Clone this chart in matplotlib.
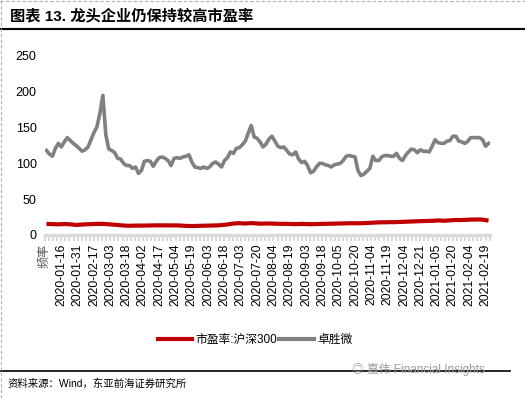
import numpy as np
import pandas as pd
from matplotlib import pyplot as plt
from matplotlib.lines import Line2D
from matplotlib.ticker import FixedLocator, MultipleLocator

plt.rcParams['font.family'] = ['Liberation Sans', 'Noto Sans CJK SC', 'DejaVu Sans']

# weekday calendar (Wind export), values read every other day
dates = pd.bdate_range('2020-01-02', '2021-02-23')

zsw_pe = [118, 113, 110, 121, 128, 123, 130, 136, 132, 128, 125, 121, 117, 119, 123,
          133, 143, 151, 170, 195, 140, 120, 118, 115, 107, 106, 100, 97, 97, 93,
          95, 86, 90, 103, 104, 103, 96, 103, 108, 109, 107, 104, 97, 107, 108,
          107, 109, 110, 112, 102, 95, 94, 93, 95, 93, 95, 100, 102, 99, 95,
          104, 108, 116, 114, 121, 122, 126, 131, 142, 153, 137, 135, 130, 123, 127,
          134, 138, 131, 124, 122, 123, 118, 113, 112, 116, 106, 101, 103, 97, 87,
          89, 95, 100, 100, 98, 97, 95, 98, 99, 100, 104, 110, 111, 110, 109,
          90, 83, 85, 89, 93, 110, 104, 104, 109, 111, 111, 110, 110, 114, 107,
          104, 111, 116, 120, 119, 115, 119, 117, 117, 116, 124, 133, 129, 128, 128,
          131, 132, 138, 138, 131, 130, 128, 131, 136, 136, 136, 136, 133, 124, 128]

hs300_pe = [15.5, 15.4, 15.2, 15.0, 14.9, 15.1, 15.3, 15.2, 15.0, 14.5, 14.0,
            14.3, 14.6, 14.9, 15.0, 15.2, 15.4, 15.5, 15.6, 15.5, 15.3, 15.0, 14.6, 14.3, 14.0, 13.6,
            13.2, 13.0, 12.9, 13.0, 13.1, 13.2, 13.1, 13.2, 13.3, 13.4, 13.4, 13.5, 13.5, 13.4, 13.5,
            13.6, 13.6, 13.5, 13.4, 13.3,
            12.9, 12.7, 12.6, 12.5, 12.6, 12.7, 12.8, 12.9, 13.0, 13.1, 13.2, 13.3, 13.5, 13.8, 14.2,
            14.8, 15.5, 16.0, 16.3, 16.5, 16.2, 16.0, 16.3, 16.7, 16.4, 16.0, 15.8, 15.9, 16.0, 16.1,
            16.0, 15.8, 15.6, 15.5, 15.6, 15.5, 15.4, 15.3, 15.2, 15.4, 15.5, 15.3, 15.2, 15.1, 15.2,
            15.3, 15.4, 15.5, 15.6, 15.8, 15.9, 16.0, 16.1, 16.0, 16.1, 16.3, 16.4, 16.5, 16.4, 16.3,
            16.4, 16.6, 16.8, 17.0, 17.3, 17.5, 17.6, 17.8, 17.7, 17.9, 18.0, 17.9, 18.1, 18.2, 18.3,
            18.5, 18.7, 18.9, 19.0, 19.2, 19.3, 19.5, 19.6, 19.5, 19.8, 20.0, 20.3, 20.1, 19.9, 20.2,
            20.5, 20.8, 21.0, 20.8, 21.0, 21.2, 21.4, 21.5, 21.6, 21.8, 21.7, 21.4, 20.8, 20.1]

tick_dates = ['2020-01-16', '2020-01-31', '2020-02-17', '2020-03-03', '2020-03-18',
              '2020-04-02', '2020-04-17', '2020-05-04', '2020-05-19', '2020-06-03',
              '2020-06-18', '2020-07-03', '2020-07-20', '2020-08-04', '2020-08-19',
              '2020-09-03', '2020-09-18', '2020-10-05', '2020-10-20', '2020-11-04',
              '2020-11-19', '2020-12-04', '2020-12-21', '2021-01-05', '2021-01-20',
              '2021-02-04', '2021-02-19']

# category axis: slot 0 is the "频率" header row, dates follow
xs = np.arange(len(dates))[::2] + 1
tick_pos = [0] + [dates.get_loc(pd.Timestamp(d)) + 1 for d in tick_dates]
tick_lab = ['频率'] + tick_dates

fig = plt.figure(figsize=(5.25, 3.98), dpi=100)
ax = fig.add_axes([45 / 525, 1 - 235 / 398, 445 / 525, 179 / 398])

ax.plot(xs, hs300_pe, color='#c00000', lw=3, solid_capstyle='butt', label='市盈率:沪深300')
ax.plot(xs, zsw_pe, color='#808080', lw=2.6, label='卓胜微')

ax.set_xlim(0, 300)
ax.set_ylim(0, 250)
ax.set_yticks(range(0, 251, 50))
ax.tick_params(axis='y', length=0, labelsize=9, pad=6)

ax.xaxis.set_major_locator(FixedLocator(tick_pos))
ax.set_xticklabels(tick_lab, rotation=90, fontsize=8.7)
ax.xaxis.set_minor_locator(MultipleLocator(2.75))
ax.tick_params(axis='x', which='both', direction='out', length=4, width=1.5,
               color='#d9d9d9', pad=2)
for lab in ax.get_xticklabels():
    lab.set_verticalalignment('top')
ax.get_xticklabels()[0].set_color('#555555')

for s in ['top', 'right', 'left']:
    ax.spines[s].set_visible(False)
ax.spines['bottom'].set_color('#d9d9d9')
ax.spines['bottom'].set_linewidth(2.5)

# title and rules
fig.text(10 / 525, 1 - 16 / 398, '图表 13. 龙头企业仍保持较高市盈率', fontsize=11,
         fontweight='bold', va='center', ha='left')
fig.add_artist(Line2D([0, 1], [1 - 29 / 398] * 2, color='black', lw=1.5))
fig.add_artist(Line2D([0, 510 / 525], [1 - 371 / 398] * 2, color='black', lw=1.2))
fig.add_artist(Line2D([1 / 525] * 2, [0, 1], color='#b0b0b0', lw=0.8, ls=(0, (3, 2))))
fig.add_artist(Line2D([0, 1], [1 - 1 / 398] * 2, color='#b0b0b0', lw=0.8, ls=(0, (3, 2))))

handles = [Line2D([], [], color='#c00000', lw=3), Line2D([], [], color='#808080', lw=3)]
fig.legend(handles, ['市盈率:沪深300', '卓胜微'], loc='center', ncol=2,
           bbox_to_anchor=(255 / 525, 1 - 340 / 398), frameon=False, fontsize=8.5,
           handlelength=2.9, handletextpad=0.3, columnspacing=0.2)

fig.text(8 / 525, 1 - 384 / 398, '资料来源：Wind，东亚前海证券研究所', fontsize=7.5,
         va='center', ha='left')
fig.text(352 / 525, 1 - 370 / 398, '◎ 嘉伟 Financial Insights', fontsize=8.5,
         va='center', ha='left', color='#9a9a9a')

fig.savefig('out.png', dpi=100)
